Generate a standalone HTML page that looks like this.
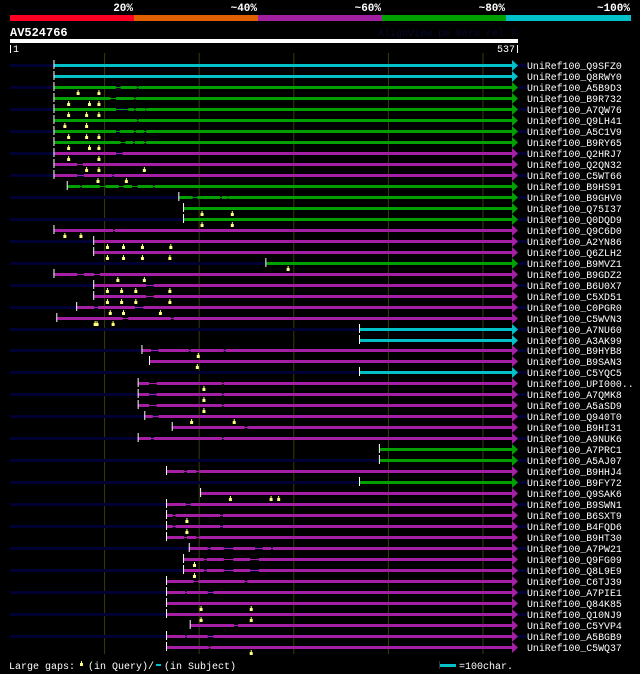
<!DOCTYPE html>
<html><head><meta charset="utf-8">
<style>
html,body{margin:0;padding:0;background:#000;}
svg{display:block;}
text{font-family:"Liberation Mono","DejaVu Sans Mono",monospace;}
</style></head>
<body>
<svg id="chart" width="640" height="674" viewBox="0 0 640 674" xmlns="http://www.w3.org/2000/svg">
  <rect x="0" y="0" width="640" height="674" fill="#000"/>
  <g id="scalebar">
    <rect x="10" y="15" width="124" height="6" fill="#ff0022"/>
    <rect x="134" y="15" width="124" height="6" fill="#e06000"/>
    <rect x="258" y="15" width="124" height="6" fill="#a020a0"/>
    <rect x="382" y="15" width="124" height="6" fill="#00a000"/>
    <rect x="506" y="15" width="125" height="6" fill="#00c0c8"/>
    <g font-size="11" font-weight="bold" fill="#fff" text-anchor="end">
      <text x="133" y="11">20%</text>
      <text x="257" y="11">~40%</text>
      <text x="381" y="11">~60%</text>
      <text x="505" y="11">~80%</text>
      <text x="630" y="11">~100%</text>
    </g>
  </g>
  <text x="10" y="36" font-size="12" font-weight="bold" fill="#fff">AV524766</text>
  <text x="516" y="36" font-size="10" fill="#08082e" text-anchor="end">AlignView.pm Beta rel.7</text>
  <rect x="10" y="39" width="508" height="4" fill="#fff"/>
  <rect x="10" y="45" width="1" height="8" fill="#fff"/>
  <text x="13" y="52" font-size="10" fill="#fff">1</text>
  <rect x="517" y="45" width="1" height="8" fill="#fff"/>
  <text x="515" y="52" font-size="10" fill="#fff" text-anchor="end">537</text>
  <g id="grid"></g>
  <g id="rows"></g>
  <g>
    <text x="9" y="669" font-size="10" fill="#fff">Large gaps:</text>
    <rect x="81" y="661" width="1" height="2" fill="#ffff80"/>
    <rect x="80" y="663" width="3" height="3" fill="#ffff80"/>
    <text x="88" y="669" font-size="10" fill="#fff">(in Query)/</text>
    <rect x="156" y="664" width="5" height="2" fill="#00c0c8"/>
    <text x="164" y="669" font-size="10" fill="#fff">(in Subject)</text>
    <rect x="439" y="661" width="1" height="8" fill="#333"/>
    <rect x="440" y="664" width="16" height="3" fill="#00c0c8"/>
    <text x="459" y="669" font-size="10" fill="#fff">=100char.</text>
  </g>
</svg>
<script>
const queryLength = 537;
const gridTicks = [100, 200, 300, 400, 500];
const names = ["Q9SFZ0","Q8RWY0","A5B9D3","B9R732","A7QW76","Q9LH41","A5C1V9","B9RY65","Q2HRJ7","Q2QN32","C5WT66","B9HS91","B9GHV0","Q75I37","Q0DQD9","Q9C6D0","A2YN86","Q6ZLH2","B9MVZ1","B9GDZ2","B6U0X7","C5XD51","C0PGR0","C5WVN3","A7NU60","A3AK99","B9HYB8","B9SAN3","C5YQC5","UPI000..","A7QMK8","A5aSD9","Q940T0","B9HI31","A9NUK6","A7PRC1","A5AJ07","B9HHJ4","B9FY72","Q9SAK6","B9SWN1","B6SXT9","B4FQD6","B9HT30","A7PW21","Q9FG09","Q8L9E9","C6TJ39","A7PIE1","Q84K85","Q10NJ9","C5YVP4","A5BGB9","C5WQ37"];
const identityClass = ["c","c","g","g","g","g","g","g","p","p","p","g","g","g","g","p","p","p","g","p","p","p","p","p","c","c","p","p","c","p","p","p","p","p","p","g","g","p","g","p","p","p","p","p","p","p","p","p","p","p","p","p","p","p"];
const starts = [47,47,47,47,47,47,47,47,47,47,47,61,179,184,184,47,89,89,271,47,89,89,71,50,370,370,140,148,370,136,136,136,143,172,136,391,391,166,370,202,166,166,166,166,190,184,184,166,166,166,166,191,166,166];
const subjectGaps = [[],[],[[112,117],[134,136]],[[106,112],[131,133]],[[112,120],[120,125],[131,133],[143,144]],[[134,136]],[[112,116],[131,133],[142,144]],[[117,122],[130,132],[142,144]],[[112,119]],[[71,77]],[[71,78],[108,110]],[[74,76],[95,101],[115,120],[129,135],[151,153]],[[193,198],[222,224],[230,231]],[],[],[[109,111]],[],[],[],[[71,78],[89,95]],[[144,152]],[[144,152]],[[89,93],[132,141]],[[119,125],[170,173]],[],[],[[149,157],[189,191],[226,228]],[],[],[[147,155],[224,226]],[[147,155],[224,226]],[[147,155],[224,226]],[[151,157]],[[248,251]],[[149,152],[224,226]],[],[],[[184,187],[197,200]],[],[],[[186,191]],[[172,175],[222,225]],[[172,175],[222,225]],[[184,187],[197,200]],[[209,212],[226,236],[259,267],[276,278]],[[205,208],[226,236],[254,263]],[[205,208],[226,236],[254,263]],[[194,199],[248,251]],[[185,187],[209,215]],[],[],[[237,241]],[[185,187],[209,215]],[[210,212]]];
const queryGaps = [[],[],[72,94],[62,84,94],[62,81,94],[58,81],[62,81,94],[62,84,94],[62,94],[81,94,142],[93,123],[],[],[203,235],[203,235],[58,75],[103,120,140,170],[103,120,140,169],[294],[114,142],[103,118,133,169],[103,118,133,169],[106,120,159],[90,92,109],[],[],[199],[198],[],[205],[205],[205],[192,237],[],[],[],[],[],[],[233,276,284],[],[187],[187],[],[],[195],[195],[],[],[202,255],[202,255],[],[],[255]];

const colors = {c:"#00c0c8", g:"#00a000", p:"#a41fa4"};
const NS = "http://www.w3.org/2000/svg";
const x = p => 10 + p * 508 / queryLength;
const rowY = i => 65 + i * 10.98;
function mk(tag, attrs, parent) {
  const el = document.createElementNS(NS, tag);
  for (const k in attrs) el.setAttribute(k, attrs[k]);
  parent.appendChild(el);
  return el;
}
const grid = document.getElementById('grid');
gridTicks.forEach(t => {
  const l = mk('rect', {x: x(t) - 0.5, y: 53, width: 1, height: 601, fill: '#3a3a0a'}, grid);
  
  
});
const rows = document.getElementById('rows');
names.forEach((n, i) => {
  const y = Math.round(rowY(i));
  const col = colors[identityClass[i]];
  const g = mk('g', {}, rows);
  
  
  if (i % 2 === 0) {
    const ext = mk('rect', {x: 10, y: y - 1, width: 517, height: 3, fill: '#000033'}, g);
    
    
  }
  let segs = [];
  let cur = starts[i];
  subjectGaps[i].forEach(gp => { segs.push([cur, gp[0]]); cur = gp[1]; });
  segs.push([cur, queryLength]);
  const thin = mk('rect', {x: x(starts[i]), y: y, width: x(queryLength) - 6 - x(starts[i]), height: 1, fill: col}, g);
  
  
  segs.forEach(s => {
    const w = Math.min(x(s[1]), x(queryLength) - 6) - x(s[0]);
    if (w <= 0) return;
    const r = mk('rect', {x: x(s[0]), y: y - 1, width: w, height: 3, fill: col}, g);
    
    
  });
  const xe = x(queryLength);
  const ar = mk('polygon', {points: (xe - 6) + ',' + (y - 5) + ' ' + xe + ',' + (y + 0.5) + ' ' + (xe - 6) + ',' + (y + 6), fill: col}, g);
  
  
  const tk = mk('rect', {x: x(starts[i]) - 1, y: y - 5, width: 1, height: 9, fill: '#fff'}, g);
  
  
  queryGaps[i].forEach(q => {
    const st = mk('rect', {x: x(q) - 0.5, y: y + 3, width: 1, height: 2, fill: '#ffff80'}, g);
    
    
    const b = mk('rect', {x: x(q) - 1.5, y: y + 5, width: 3, height: 3, fill: '#ffff80'}, g);
    
    
  });
  const t = mk('text', {x: 527, y: y + 4, 'font-size': 9.9, fill: '#fff'}, g);
  t.textContent = 'UniRef100_' + n;
  
  
});
</script>
</body></html>
